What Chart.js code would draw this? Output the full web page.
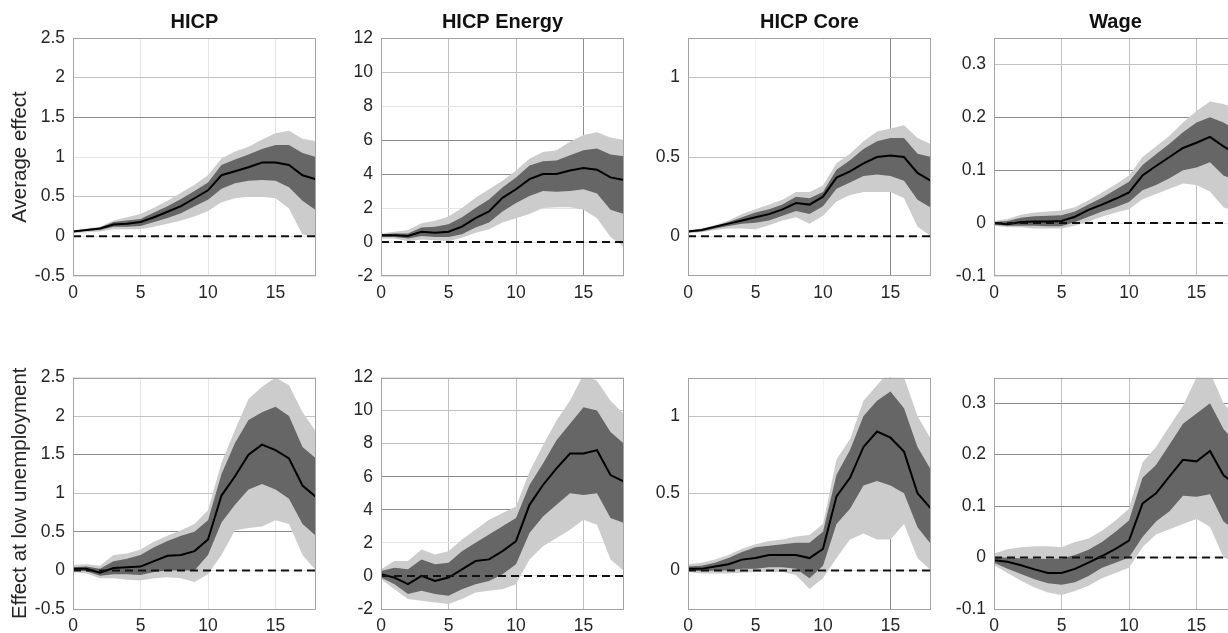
<!DOCTYPE html>
<html>
<head>
<meta charset="utf-8">
<script src="https://cdn.jsdelivr.net/npm/chart.js@4.4.1/dist/chart.umd.min.js"></script>
<style>
html,body{margin:0;padding:0;background:#fff;width:1228px;height:633px;overflow:hidden;}
#wrap{position:relative;width:1228px;height:633px;overflow:hidden;background:#fff;}
#wrap canvas{position:absolute;}
</style>
</head>
<body>
<div id="wrap"></div>
<script>
// ---------- DATA ----------
const horizons = [0,1,2,3,4,5,6,7,8,9,10,11,12,13,14,15,16,17,18];
const panelTitles = ['HICP', 'HICP Energy', 'HICP Core', 'Wage'];
const rowLabels = ['Average effect', 'Effect at low unemployment'];
const xTickValues = [0, 5, 10, 15];
const yTicksHicp = [-0.5, 0, 0.5, 1, 1.5, 2, 2.5];
const yTicksEnergy = [-2, 0, 2, 4, 6, 8, 10, 12];
const yTicksCore = [0, 0.5, 1];
const yTicksWage = [-0.1, 0, 0.1, 0.2, 0.3];
const zeroLevel = 0;

// Row 1: average effect
const hicpAvgMed   = [0.06,0.08,0.10,0.15,0.16,0.18,0.24,0.31,0.38,0.48,0.58,0.77,0.82,0.87,0.93,0.93,0.90,0.77,0.72];
const hicpAvgInHi  = [0.07,0.09,0.11,0.18,0.20,0.22,0.30,0.38,0.47,0.57,0.68,0.90,0.97,1.03,1.10,1.15,1.15,1.05,1.00];
const hicpAvgInLo  = [0.05,0.07,0.08,0.12,0.12,0.13,0.18,0.23,0.29,0.38,0.46,0.60,0.67,0.70,0.71,0.70,0.62,0.45,0.33];
const hicpAvgOutHi = [0.07,0.10,0.12,0.20,0.24,0.28,0.36,0.45,0.55,0.65,0.77,0.98,1.07,1.13,1.22,1.30,1.33,1.23,1.20];
const hicpAvgOutLo = [0.04,0.05,0.06,0.09,0.09,0.09,0.12,0.16,0.20,0.25,0.32,0.43,0.48,0.50,0.50,0.48,0.35,0.02,0.00];

const energyAvgMed   = [0.40,0.40,0.35,0.60,0.55,0.60,0.90,1.40,1.80,2.60,3.10,3.70,4.00,4.00,4.20,4.35,4.25,3.80,3.65];
const energyAvgInHi  = [0.45,0.50,0.50,0.85,0.90,1.05,1.45,2.00,2.50,3.20,3.80,4.50,4.75,4.80,5.10,5.40,5.50,5.15,5.05];
const energyAvgInLo  = [0.30,0.30,0.20,0.35,0.30,0.30,0.45,0.85,1.15,1.80,2.30,2.70,3.00,2.95,3.00,3.10,2.85,1.90,1.65];
const energyAvgOutHi = [0.50,0.60,0.70,1.10,1.25,1.50,2.00,2.60,3.10,3.60,4.20,4.90,5.30,5.40,5.90,6.30,6.45,6.15,6.00];
const energyAvgOutLo = [0.20,0.20,0.05,0.15,0.10,0.05,0.25,0.55,0.75,1.15,1.40,1.65,2.00,2.05,2.05,1.90,1.40,0.30,-0.30];

const coreAvgMed   = [0.030,0.040,0.060,0.080,0.100,0.120,0.140,0.170,0.210,0.200,0.250,0.370,0.410,0.460,0.500,0.510,0.500,0.400,0.350];
const coreAvgInHi  = [0.035,0.045,0.065,0.090,0.120,0.150,0.170,0.200,0.250,0.240,0.280,0.420,0.480,0.550,0.600,0.620,0.620,0.520,0.500];
const coreAvgInLo  = [0.025,0.030,0.050,0.065,0.080,0.085,0.100,0.130,0.160,0.140,0.190,0.300,0.340,0.380,0.390,0.380,0.350,0.230,0.180];
const coreAvgOutHi = [0.040,0.050,0.070,0.100,0.140,0.170,0.200,0.230,0.280,0.280,0.320,0.460,0.520,0.600,0.660,0.680,0.700,0.620,0.580];
const coreAvgOutLo = [0.020,0.025,0.040,0.050,0.050,0.045,0.070,0.100,0.120,0.080,0.130,0.220,0.260,0.280,0.280,0.280,0.240,0.060,0.000];

const wageAvgMed   = [0.000,-0.002,0.002,0.003,0.003,0.004,0.012,0.025,0.035,0.046,0.058,0.090,0.108,0.125,0.142,0.152,0.163,0.145,0.130];
const wageAvgInHi  = [0.002,0.004,0.010,0.013,0.014,0.015,0.022,0.035,0.048,0.063,0.078,0.110,0.130,0.150,0.172,0.190,0.200,0.190,0.175];
const wageAvgInLo  = [-0.003,-0.005,-0.005,-0.005,-0.006,-0.006,0.002,0.012,0.022,0.030,0.040,0.062,0.072,0.085,0.100,0.105,0.115,0.090,0.080];
const wageAvgOutHi = [0.004,0.008,0.016,0.020,0.022,0.024,0.030,0.043,0.058,0.073,0.090,0.125,0.145,0.165,0.190,0.212,0.230,0.225,0.215];
const wageAvgOutLo = [-0.005,-0.008,-0.008,-0.010,-0.010,-0.010,-0.005,0.003,0.012,0.020,0.026,0.045,0.055,0.065,0.075,0.072,0.060,0.030,0.020];

// Row 2: effect at low unemployment
const hicpLowMed   = [0.02,0.02,-0.03,0.03,0.04,0.05,0.12,0.19,0.20,0.25,0.40,0.97,1.22,1.50,1.63,1.56,1.45,1.10,0.95];
const hicpLowInHi  = [0.04,0.05,0.02,0.12,0.15,0.20,0.30,0.38,0.45,0.50,0.65,1.25,1.65,1.95,2.05,2.12,2.00,1.60,1.45];
const hicpLowInLo  = [0.00,-0.01,-0.07,-0.05,-0.05,-0.06,-0.02,0.00,0.00,0.00,0.20,0.62,0.85,1.05,1.12,1.05,0.93,0.60,0.45];
const hicpLowOutHi = [0.07,0.08,0.06,0.20,0.22,0.27,0.37,0.45,0.52,0.60,0.78,1.40,1.82,2.22,2.38,2.50,2.40,2.05,1.80];
const hicpLowOutLo = [-0.02,-0.04,-0.10,-0.10,-0.12,-0.13,-0.10,-0.09,-0.10,-0.15,-0.05,0.20,0.52,0.55,0.57,0.65,0.60,0.20,0.00];

const energyLowMed   = [0.1,-0.1,-0.5,0.0,-0.3,-0.1,0.4,0.9,1.0,1.5,2.1,4.3,5.5,6.5,7.4,7.4,7.6,6.1,5.7];
const energyLowInHi  = [0.3,0.5,0.4,1.0,0.7,0.8,1.5,2.0,2.5,3.0,3.5,5.5,6.8,8.2,9.2,10.2,10.0,8.7,8.0];
const energyLowInLo  = [-0.1,-0.5,-1.1,-0.9,-1.1,-1.2,-0.8,-0.5,-0.3,0.1,0.7,2.6,3.6,4.3,5.0,4.9,5.0,3.5,3.2];
const energyLowOutHi = [0.4,0.9,0.9,1.6,1.3,1.5,2.2,2.8,3.4,3.8,4.2,6.3,7.9,9.4,10.6,12.2,11.8,10.6,9.8];
const energyLowOutLo = [-0.2,-0.8,-1.4,-1.5,-1.6,-1.7,-1.4,-1.0,-0.9,-0.8,-0.5,1.0,1.8,2.3,2.8,3.4,3.1,1.0,0.3];

const coreLowMed   = [0.010,0.010,0.025,0.040,0.070,0.080,0.100,0.100,0.100,0.080,0.140,0.480,0.600,0.800,0.900,0.860,0.770,0.500,0.400];
const coreLowInHi  = [0.025,0.030,0.050,0.080,0.120,0.150,0.160,0.170,0.180,0.180,0.250,0.620,0.780,1.000,1.100,1.160,1.050,0.800,0.650];
const coreLowInLo  = [0.000,-0.005,0.000,0.000,0.010,0.010,0.020,0.020,0.010,-0.050,0.030,0.300,0.400,0.550,0.580,0.550,0.500,0.280,0.170];
const coreLowOutHi = [0.040,0.050,0.070,0.100,0.140,0.170,0.190,0.200,0.220,0.230,0.300,0.720,0.850,1.100,1.200,1.300,1.250,1.000,0.850];
const coreLowOutLo = [-0.010,-0.020,-0.020,-0.020,-0.015,-0.010,-0.010,-0.010,-0.030,-0.120,-0.050,0.080,0.200,0.240,0.200,0.200,0.300,0.080,0.000];

const wageLowMed   = [-0.005,-0.008,-0.015,-0.023,-0.030,-0.030,-0.022,-0.010,0.003,0.017,0.033,0.105,0.125,0.158,0.190,0.187,0.207,0.160,0.140];
const wageLowInHi  = [0.000,0.000,-0.002,-0.002,-0.003,-0.002,0.005,0.015,0.030,0.050,0.072,0.155,0.180,0.220,0.260,0.280,0.300,0.250,0.220];
const wageLowInLo  = [-0.010,-0.022,-0.032,-0.042,-0.050,-0.053,-0.048,-0.036,-0.020,-0.010,0.000,0.040,0.070,0.090,0.120,0.118,0.123,0.070,0.050];
const wageLowOutHi = [0.008,0.016,0.020,0.022,0.022,0.020,0.030,0.037,0.052,0.072,0.095,0.185,0.215,0.255,0.295,0.350,0.360,0.300,0.270];
const wageLowOutLo = [-0.015,-0.030,-0.045,-0.058,-0.068,-0.073,-0.065,-0.055,-0.040,-0.030,-0.020,0.020,0.045,0.055,0.065,0.075,0.060,0.000,-0.010];

// ---------- STYLE / LAYOUT ----------
const FONT = "'Liberation Sans', Arial, Helvetica, sans-serif";
const TEXT = '#262626';
const DARK_BAND = '#666666';
const LIGHT_BAND = '#cccccc';
const GRID = {light:'#e4e4e4', faint:'#f3f3f3', mid:'#c2c2c2', dark:'#8c8c8c'};
const plotLefts = [73, 381, 688, 994];
const plotTops = [38, 371];
const plotW = 243, plotH = 238, yAxisW = 73, xAxisH = 40, padRight = 4;

const yRanges = {hicp:[-0.5, 2.5], energy:[-2, 12], core:[-0.25, 1.25], wage:[-0.1, 0.35]};
const yTickSets = {hicp:yTicksHicp, energy:yTicksEnergy, core:yTicksCore, wage:yTicksWage};

// grid tone emphasis (imitates the uneven grid rendering of the original)
const gridTones = [
  {y:{'2':'mid','1.5':'dark','0.5':'mid'}, x:{}},
  {y:{'10':'mid','6':'dark','4':'dark'}, x:{'5':'mid','10':'mid','15':'dark'}},
  {y:{'1':'mid','0.5':'mid'}, x:{'5':'faint','10':'faint','15':'dark'}},
  {y:{'0.3':'mid','0.2':'dark','0.1':'dark'}, x:{'5':'mid','10':'mid','15':'mid'}},
  {y:{'2':'mid','1.5':'dark','1':'mid','0.5':'dark'}, x:{}},
  {y:{'10':'mid','8':'mid','6':'dark','4':'dark'}, x:{'5':'mid','10':'mid','15':'mid'}},
  {y:{'1':'mid','0.5':'mid'}, x:{'5':'faint','10':'faint','15':'dark'}},
  {y:{'0.3':'dark','0.2':'dark','0.1':'dark'}, x:{'5':'mid','10':'mid','15':'mid'}}
];

const panels = [
  {row:0, col:0, v:'hicp',   s:[hicpAvgMed, hicpAvgInHi, hicpAvgInLo, hicpAvgOutHi, hicpAvgOutLo]},
  {row:0, col:1, v:'energy', s:[energyAvgMed, energyAvgInHi, energyAvgInLo, energyAvgOutHi, energyAvgOutLo]},
  {row:0, col:2, v:'core',   s:[coreAvgMed, coreAvgInHi, coreAvgInLo, coreAvgOutHi, coreAvgOutLo]},
  {row:0, col:3, v:'wage',   s:[wageAvgMed, wageAvgInHi, wageAvgInLo, wageAvgOutHi, wageAvgOutLo]},
  {row:1, col:0, v:'hicp',   s:[hicpLowMed, hicpLowInHi, hicpLowInLo, hicpLowOutHi, hicpLowOutLo]},
  {row:1, col:1, v:'energy', s:[energyLowMed, energyLowInHi, energyLowInLo, energyLowOutHi, energyLowOutLo]},
  {row:1, col:2, v:'core',   s:[coreLowMed, coreLowInHi, coreLowInLo, coreLowOutHi, coreLowOutLo]},
  {row:1, col:3, v:'wage',   s:[wageLowMed, wageLowInHi, wageLowInLo, wageLowOutHi, wageLowOutLo]}
];

const framePlugin = {
  id: 'frame',
  afterDatasetsDraw(chart) {
    const {ctx, chartArea: a} = chart;
    ctx.save();
    ctx.strokeStyle = '#a3a3a3';
    ctx.lineWidth = 1;
    ctx.strokeRect(Math.round(a.left) + 0.5, Math.round(a.top) + 0.5,
                   Math.round(a.right - a.left) - 1, Math.round(a.bottom - a.top) - 1);
    ctx.restore();
  }
};

const pts = arr => horizons.map((h, i) => ({x: h, y: arr[i]}));
const wrap = document.getElementById('wrap');

panels.forEach((p, idx) => {
  const top = p.row === 0;
  const padTop = top ? 0 : 12;
  const titleH = top ? 38 : 0;
  const cv = document.createElement('canvas');
  const W = yAxisW + plotW + padRight;
  const H = padTop + titleH + plotH + xAxisH;
  cv.width = W; cv.height = H;
  cv.style.width = W + 'px'; cv.style.height = H + 'px';
  cv.style.left = (plotLefts[p.col] - yAxisW) + 'px';
  cv.style.top = (top ? 0 : plotTops[1] - padTop) + 'px';
  wrap.appendChild(cv);

  const tones = gridTones[idx];
  const yTicks = yTickSets[p.v];
  const [med, inHi, inLo, outHi, outLo] = p.s;
  const band = (data, color, fillTo) => ({
    data: pts(data), borderColor: 'rgba(0,0,0,0)', borderWidth: 0, pointRadius: 0,
    fill: fillTo, backgroundColor: color
  });

  new Chart(cv, {
    type: 'line',
    data: {
      datasets: [
        {data: [{x: horizons[0], y: zeroLevel}, {x: horizons[horizons.length - 1], y: zeroLevel}],
         borderColor: '#111', borderWidth: 2, borderDash: [8, 5], pointRadius: 0, fill: false, order: 0},
        {data: pts(med), borderColor: '#000', borderWidth: 2, pointRadius: 0, fill: false, order: 1},
        Object.assign(band(inHi, DARK_BAND, '+1'), {order: 2}),
        Object.assign(band(inLo, DARK_BAND, false), {order: 3}),
        Object.assign(band(outHi, LIGHT_BAND, '+1'), {order: 4}),
        Object.assign(band(outLo, LIGHT_BAND, false), {order: 5})
      ]
    },
    options: {
      responsive: false,
      animation: false,
      devicePixelRatio: 1,
      events: [],
      layout: {padding: {top: padTop, left: 0, right: padRight, bottom: 0}},
      elements: {line: {tension: 0}},
      plugins: {
        legend: {display: false},
        tooltip: {enabled: false},
        title: {
          display: top, text: panelTitles[p.col], fullSize: false, color: '#111',
          font: {family: FONT, size: 20, weight: 'bold'},
          padding: {top: 10.5, bottom: 3.5}
        }
      },
      scales: {
        x: {
          type: 'linear', min: horizons[0], max: horizons[horizons.length - 1],
          afterBuildTicks: s => { s.ticks = xTickValues.map(v => ({value: v})); },
          afterFit: s => { s.height = xAxisH; },
          border: {display: false},
          grid: {drawTicks: false, lineWidth: 1,
                 color: c => GRID[(c.tick && tones.x[String(c.tick.value)]) || 'light']},
          ticks: {color: TEXT, padding: 6.5, maxRotation: 0, autoSkip: false,
                  font: {family: FONT, size: 17.5}, callback: v => String(v)}
        },
        y: {
          type: 'linear', min: yRanges[p.v][0], max: yRanges[p.v][1],
          afterBuildTicks: s => { s.ticks = yTicks.map(v => ({value: v})); },
          afterFit: s => { s.width = yAxisW; },
          border: {display: false},
          grid: {drawTicks: false, lineWidth: 1,
                 color: c => GRID[(c.tick && tones.y[String(c.tick.value)]) || 'light']},
          ticks: {color: TEXT, padding: 8, autoSkip: false,
                  font: {family: FONT, size: 17.5}, callback: v => String(v)},
          title: {display: p.col === 0, text: rowLabels[p.row], color: TEXT,
                  font: {family: FONT, size: 20.5}, padding: {top: 8, bottom: 0}}
        }
      }
    },
    plugins: [framePlugin]
  });
});
</script>
</body>
</html>
